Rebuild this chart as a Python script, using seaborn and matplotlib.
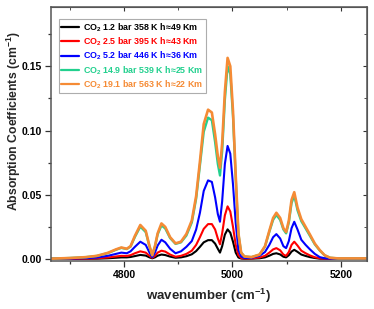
import numpy as np
import pandas as pd
import matplotlib
matplotlib.use("Agg")
import matplotlib.pyplot as plt
import seaborn as sns
from matplotlib.ticker import MultipleLocator

sns.set_style("ticks")
plt.rcParams['font.family'] = ['Liberation Sans', 'DejaVu Sans']
plt.rcParams['font.weight'] = 'bold'
plt.rcParams['mathtext.fontset'] = 'custom'
plt.rcParams['mathtext.rm'] = 'Liberation Sans:bold'
plt.rcParams['mathtext.bf'] = 'Liberation Sans:bold'
plt.rcParams['mathtext.default'] = 'bf'

wavenumber = [4665, 4700, 4730, 4750, 4770, 4785, 4795, 4805, 4812, 4820, 4830, 4840, 4847, 4852,
              4857, 4862, 4869, 4876, 4885, 4895, 4905, 4915, 4925, 4933, 4940, 4947, 4955, 4962,
              4968, 4973, 4977, 4981, 4986, 4991, 4996, 5001, 5006, 5011, 5016, 5022, 5035, 5050,
              5060, 5068, 5075, 5081, 5088, 5094, 5099, 5104, 5109, 5114, 5120, 5127, 5135, 5143,
              5152, 5161, 5170, 5180, 5195, 5220, 5248]

black_1p2 = [0.0001, 0.0001, 0.0002, 0.0003, 0.0006, 0.0010, 0.0013, 0.0013, 0.0016, 0.0023, 0.0032,
             0.0027, 0.0013, 0.0006, 0.0013, 0.0026, 0.0035, 0.0031, 0.0019, 0.0010, 0.0013, 0.0022,
             0.0037, 0.0062, 0.0095, 0.0130, 0.0147, 0.0147, 0.0120, 0.0080, 0.0050, 0.0100, 0.0190,
             0.0231, 0.0205, 0.0135, 0.0050, 0.0012, 0.0004, 0.0002, 0.0003, 0.0006, 0.0013, 0.0026,
             0.0040, 0.0045, 0.0036, 0.0018, 0.0013, 0.0030, 0.0058, 0.0072, 0.0056, 0.0035, 0.0024,
             0.0015, 0.0008, 0.0003, 0.0002, 0.0001, 0.0001, 0.0001, 0.0001]

red_2p5 = [0.0001, 0.0002, 0.0003, 0.0006, 0.0012, 0.0020, 0.0025, 0.0024, 0.0030, 0.0045, 0.0060,
           0.0050, 0.0025, 0.0010, 0.0025, 0.0050, 0.0065, 0.0058, 0.0035, 0.0018, 0.0025, 0.0040,
           0.0065, 0.0110, 0.0170, 0.0235, 0.0272, 0.0272, 0.0230, 0.0160, 0.0115, 0.0200, 0.0340,
           0.0410, 0.0370, 0.0250, 0.0110, 0.0030, 0.0008, 0.0004, 0.0005, 0.0012, 0.0025, 0.0050,
           0.0075, 0.0085, 0.0068, 0.0035, 0.0025, 0.0055, 0.0110, 0.0135, 0.0105, 0.0065, 0.0045,
           0.0028, 0.0014, 0.0006, 0.0003, 0.0002, 0.0002, 0.0002, 0.0002]

blue_5p2 = [0.0002, 0.0004, 0.0007, 0.0012, 0.0025, 0.0040, 0.0050, 0.0045, 0.0060, 0.0095, 0.0135,
            0.0110, 0.0050, 0.0015, 0.0050, 0.0105, 0.0150, 0.0130, 0.0080, 0.0045, 0.0060, 0.0095,
            0.0140, 0.0230, 0.0360, 0.0530, 0.0612, 0.0600, 0.0480, 0.0350, 0.0290, 0.0450, 0.0740,
            0.0880, 0.0820, 0.0580, 0.0280, 0.0070, 0.0020, 0.0008, 0.0010, 0.0025, 0.0055, 0.0110,
            0.0170, 0.0194, 0.0160, 0.0100, 0.0085, 0.0140, 0.0240, 0.0290, 0.0230, 0.0150, 0.0110,
            0.0075, 0.0040, 0.0015, 0.0006, 0.0003, 0.0003, 0.0003, 0.0003]

green_14p9 = [0.0003, 0.0008, 0.0015, 0.0024, 0.0046, 0.0072, 0.0087, 0.0078, 0.0097, 0.0172, 0.0252,
              0.0210, 0.0097, 0.0030, 0.0097, 0.0192, 0.0262, 0.0238, 0.0163, 0.0118, 0.0130, 0.0183,
              0.0285, 0.0470, 0.0730, 0.0990, 0.1100, 0.1080, 0.0910, 0.0740, 0.0650, 0.0840, 0.1240,
              0.1500, 0.1440, 0.1110, 0.0630, 0.0195, 0.0050, 0.0020, 0.0015, 0.0034, 0.0097, 0.0212,
              0.0305, 0.0343, 0.0305, 0.0230, 0.0200, 0.0285, 0.0435, 0.0495, 0.0380, 0.0295, 0.0238,
              0.0180, 0.0114, 0.0067, 0.0029, 0.0010, 0.0005, 0.0005, 0.0005]

orange_19p1 = [0.0003, 0.0008, 0.0015, 0.0025, 0.0048, 0.0075, 0.0090, 0.0080, 0.0100, 0.0180, 0.0265,
               0.0220, 0.0100, 0.0030, 0.0100, 0.0200, 0.0277, 0.0250, 0.0170, 0.0122, 0.0135, 0.0195,
               0.0300, 0.0490, 0.0760, 0.1050, 0.1162, 0.1140, 0.0970, 0.0800, 0.0710, 0.0900, 0.1300,
               0.1565, 0.1500, 0.1150, 0.0650, 0.0200, 0.0050, 0.0020, 0.0015, 0.0035, 0.0100, 0.0220,
               0.0320, 0.0360, 0.0320, 0.0240, 0.0210, 0.0300, 0.0460, 0.0520, 0.0400, 0.0310, 0.0250,
               0.0190, 0.0120, 0.0070, 0.0030, 0.0010, 0.0005, 0.0005, 0.0005]

labels = ["CO$_2$ 1.2 bar 358 K h\u224849 Km",
          "CO$_2$ 2.5 bar 395 K h\u224843 Km",
          "CO$_2$ 5.2 bar 446 K h\u224836 Km",
          "CO$_2$ 14.9 bar 539 K h\u224825 Km",
          "CO$_2$ 19.1 bar 563 K h\u224822 Km"]
colors = ["#000000", "#ff0000", "#0000ff", "#22d08e", "#f58b35"]
series = [black_1p2, red_2p5, blue_5p2, green_14p9, orange_19p1]

frames = []
for lab, vals in zip(labels, series):
    frames.append(pd.DataFrame({"wavenumber": wavenumber, "value": vals, "series": lab}))
df = pd.concat(frames, ignore_index=True)

fig = plt.figure(figsize=(3.74, 3.09), dpi=100)
ax = fig.add_axes([0.136, 0.155, 0.845, 0.822])

widths = [1.5, 1.5, 1.5, 1.7, 1.9]
for lab, col, lw in zip(labels, colors, widths):
    sns.lineplot(data=df[df["series"] == lab], x="wavenumber", y="value", color=col,
                 linewidth=lw, ax=ax, label=lab, sort=True)

ax.set_xlim(4665, 5248)
ax.set_ylim(-0.0016, 0.196)
ax.xaxis.set_major_locator(MultipleLocator(200))
ax.xaxis.set_minor_locator(MultipleLocator(100))
ax.yaxis.set_major_locator(MultipleLocator(0.05))
ax.yaxis.set_minor_locator(MultipleLocator(0.025))
ax.yaxis.set_major_formatter(matplotlib.ticker.FormatStrFormatter('%.2f'))
ax.tick_params(axis='both', which='major', direction='out', length=4, width=0.9,
               labelsize=7.5, colors='#333333', labelcolor='black', pad=2.5)
ax.tick_params(axis='both', which='minor', direction='out', length=2.5, width=0.9, colors='#333333')
for lab in ax.get_xticklabels() + ax.get_yticklabels():
    lab.set_fontweight('bold')

for sp in ax.spines.values():
    sp.set_color('#555555')
    sp.set_linewidth(1.1)

secx = ax.secondary_xaxis('top')
secx.xaxis.set_major_locator(MultipleLocator(200))
secx.xaxis.set_minor_locator(MultipleLocator(100))
secx.tick_params(which='major', direction='in', length=3, labeltop=False, colors='#333333')
secx.tick_params(which='minor', direction='in', length=2, labeltop=False, colors='#333333')
secx.spines['top'].set_color('#555555')
secy = ax.secondary_yaxis('right')
secy.yaxis.set_major_locator(MultipleLocator(0.05))
secy.yaxis.set_minor_locator(MultipleLocator(0.025))
secy.tick_params(which='major', direction='in', length=3, labelright=False, colors='#333333')
secy.tick_params(which='minor', direction='in', length=2, labelright=False, colors='#333333')
secy.spines['right'].set_color('#555555')

ax.set_xlabel("wavenumber (cm$^{-1}$)", fontsize=9.5, fontweight='bold')
ax.xaxis.set_label_coords(0.5, -0.103)
ax.set_ylabel("Absorption Coefficients (cm$^{-1}$)", fontsize=8.8, fontweight='bold')
ax.yaxis.set_label_coords(-0.089, 0.549)

leg = ax.legend(loc='upper left', bbox_to_anchor=(0.025, 0.953), fontsize=6.4,
                frameon=True, fancybox=False, edgecolor='#999999', handlelength=2.05,
                handletextpad=0.45, borderpad=0.25, labelspacing=0.2, borderaxespad=0)
leg.get_frame().set_linewidth(0.8)
for txt, col in zip(leg.get_texts(), colors):
    txt.set_color(col)
    txt.set_fontweight('bold')
for h in leg.get_lines():
    h.set_linewidth(1.6)

fig.savefig("out.png", dpi=100)
